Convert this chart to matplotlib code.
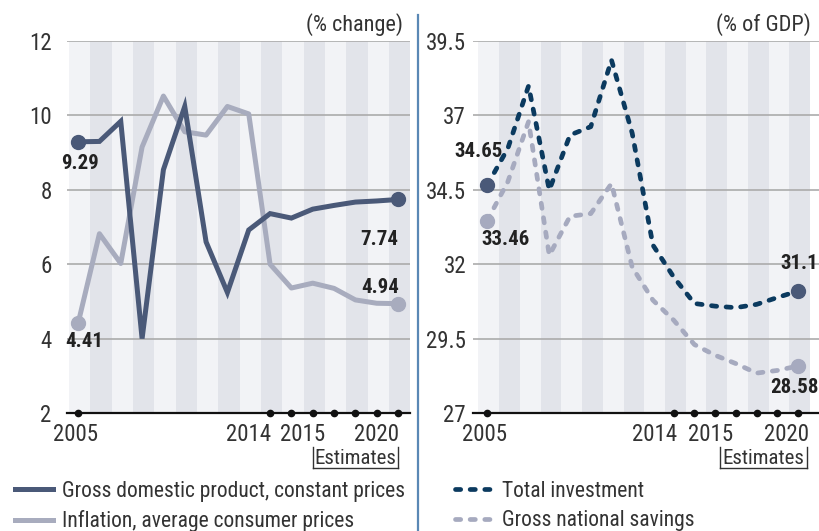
import matplotlib
matplotlib.use('Agg')
import matplotlib.pyplot as plt
import matplotlib.font_manager as fm
from matplotlib.lines import Line2D

# pick a narrow-ish font if there is one
names = {f.name for f in fm.fontManager.ttflist}
font = 'DejaVu Sans'
for cand in ['Roboto Condensed', 'Liberation Sans Narrow', 'Roboto']:
    if cand in names:
        font = cand
        break
plt.rcParams['font.family'] = [font, 'DejaVu Sans']

years = list(range(2005, 2021))
gdp = [9.29, 9.30, 9.84, 4.00, 8.54, 10.24, 6.60, 5.24, 6.92, 7.36, 7.24, 7.48, 7.58, 7.67, 7.70, 7.74]
inflation = [4.41, 6.82, 6.02, 9.15, 10.52, 9.56, 9.47, 10.24, 10.04, 6.00, 5.36, 5.49, 5.35, 5.04, 4.95, 4.94]
investment = [34.65, 35.89, 37.99, 34.49, 36.34, 36.62, 38.86, 36.40, 32.64, 31.57, 30.68, 30.59, 30.54, 30.65, 30.88, 31.10]
savings = [33.46, 34.77, 36.79, 32.30, 33.61, 33.70, 34.71, 31.90, 30.79, 30.12, 29.30, 28.94, 28.66, 28.34, 28.43, 28.58]
dot_years = [2005, 2014, 2015, 2016, 2017, 2018, 2019, 2020]
year_labels = ['2005', '2014', '2015', '2020']

left_ticks = [2, 4, 6, 8, 10, 12]
right_ticks = [27, 29.5, 32, 34.5, 37, 39.5]

C_GDP = '#4a5978'
C_INF = '#a8acbe'
C_INV = '#0b3a5f'
C_SAV = '#a6aabf'
STRIPE_L = '#f2f3f6'
STRIPE_D = '#e2e4ea'
TXT = '#222222'
GREY_TXT = '#333333'

W, H = 819, 531
fig = plt.figure(figsize=(W / 100, H / 100), dpi=100)


def px_axes(x0, x1, ytop, ybot):
    return fig.add_axes([x0 / W, 1 - ybot / H, (x1 - x0) / W, (ybot - ytop) / H])


ax1 = px_axes(67, 410, 41, 413)
ax2 = px_axes(473, 819, 41, 413)


def base(ax, ticks, xlim, label_x, estim_px, pad):
    ax.set_xlim(*xlim)
    ax.set_ylim(ticks[0], ticks[-1])
    for i, y in enumerate(years):
        ax.axvspan(y - 0.42, y + 0.58, color=STRIPE_L if i % 2 == 0 else STRIPE_D, lw=0, zorder=0)
    for t in ticks[1:]:
        ax.axhline(t, color='#ababab', lw=1.2, zorder=1)
    ax.axhline(ticks[0], color='#111111', lw=1.6, zorder=3, clip_on=False)
    ax.plot(dot_years, [ticks[0]] * len(dot_years), 'o', color='#111111', ms=4.5, zorder=4, clip_on=False)
    ax.set_yticks(ticks)
    ax.set_yticklabels([('%g' % t) for t in ticks], fontsize=16.5, color=GREY_TXT)
    ax.tick_params(axis='y', length=0, pad=pad)
    ax.set_xticks([])
    for s in ax.spines.values():
        s.set_visible(False)
    tr = ax.get_xaxis_transform()
    for lx, lab in zip(label_x, year_labels):
        ax.text(lx, -0.057, lab, transform=tr, ha='center', va='center', fontsize=16.5, color=GREY_TXT)
    # Estimates bracket
    ex0, ex1 = estim_px
    fig.text((ex0 + ex1) / 2 / W, 1 - 458.5 / H, 'Estimates', ha='center', va='center', fontsize=15,
             color=GREY_TXT)
    for xs, ys in [([ex0, ex0], [447, 468]), ([ex1, ex1], [447, 468]), ([ex0, ex1], [468, 468])]:
        fig.add_artist(Line2D([x / W for x in xs], [1 - y / H for y in ys], color='#333333', lw=1))


base(ax1, left_ticks, (2004.48, 2020.56), [2004.9, 2013.0, 2015.53, 2019.0], (313, 398), 11)
base(ax2, right_ticks, (2004.32, 2021.01), [2004.86, 2013.08, 2015.76, 2019.46], (720, 807), 5)

# left panel lines
l_gdp, = ax1.plot(years, gdp, color=C_GDP, lw=3.6, solid_joinstyle='miter', zorder=6,
                  label='Gross domestic product, constant prices')
l_inf, = ax1.plot(years, inflation, color=C_INF, lw=3.6, zorder=5,
                  label='Inflation, average consumer prices')
ax1.plot([years[0], years[-1]], [gdp[0], gdp[-1]], 'o', color=C_GDP, ms=10, zorder=7, clip_on=False)
ax1.plot([years[0], years[-1]], [inflation[0], inflation[-1]], 'o', color=C_INF, ms=10, zorder=7, clip_on=False)

# right panel lines
dash = (0, (1.1, 2.0))
l_inv, = ax2.plot(years, investment, color=C_INV, lw=3.4, ls=dash, dash_capstyle='round', zorder=6,
                  label='Total investment')
l_sav, = ax2.plot(years, savings, color=C_SAV, lw=3.4, ls=dash, dash_capstyle='round', zorder=5,
                  label='Gross national savings')
ax2.plot([years[0], years[-1]], [investment[0], investment[-1]], 'o', color=C_GDP, ms=10, zorder=7, clip_on=False)
ax2.plot([years[0], years[-1]], [savings[0], savings[-1]], 'o', color=C_SAV, ms=10, zorder=7, clip_on=False)


def lab(ax, x, y, dx, dy):
    ax.annotate('%g' % y, (x, y), xytext=(dx, dy), textcoords='offset pixels', ha='center', va='center',
                fontsize=15, fontweight='bold', color=TXT, zorder=8, annotation_clip=False)


lab(ax1, years[0], gdp[0], 2, -22)
lab(ax1, years[-1], gdp[-1], -19, -40)
lab(ax1, years[0], inflation[0], 6, -18)
lab(ax1, years[-1], inflation[-1], -18, 16)
lab(ax2, years[0], investment[0], -9, 34)
lab(ax2, years[0], savings[0], 18, -19)
lab(ax2, years[-1], investment[-1], 1, 27)
lab(ax2, years[-1], savings[-1], -4, -22)

# units
fig.text(403 / W, 1 - 25 / H, '(% change)', ha='right', va='center', fontsize=16, color=GREY_TXT)
fig.text(811 / W, 1 - 25 / H, '(% of GDP)', ha='right', va='center', fontsize=16, color=GREY_TXT)

# separator
fig.add_artist(Line2D([418.5 / W, 418.5 / W], [0, 1 - 15 / H], color='#5a88b5', lw=1.6))

# legends
leg_kw = dict(loc='upper left', frameon=False, fontsize=15.5, handlelength=1.75, handletextpad=0.45,
              labelspacing=0.39, borderpad=0, borderaxespad=0, labelcolor=GREY_TXT)
fig.legend(handles=[l_gdp, l_inf], bbox_to_anchor=(15 / W, 1 - 481 / H), **leg_kw)
fig.legend(handles=[l_inv, l_sav], bbox_to_anchor=(455 / W, 1 - 481 / H), **leg_kw)

fig.savefig('out.png', dpi=100)
